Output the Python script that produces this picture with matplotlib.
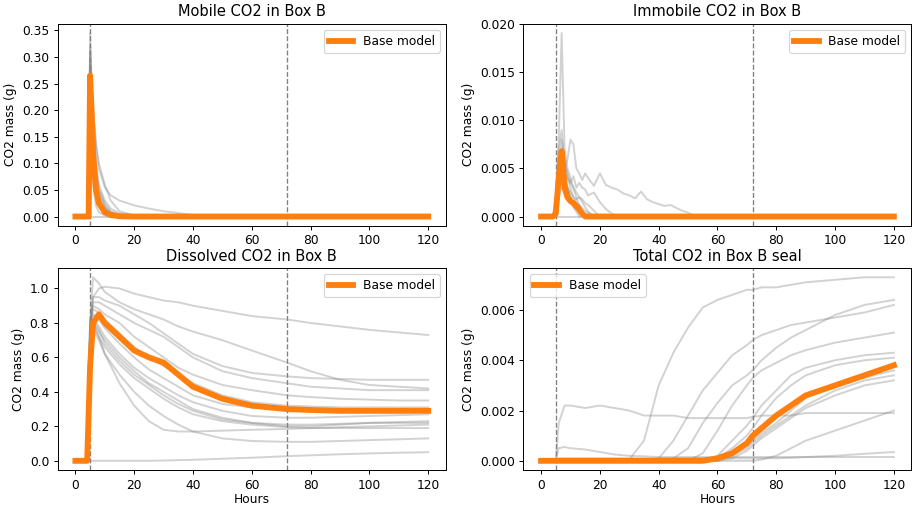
import matplotlib
matplotlib.use('Agg')
import matplotlib.pyplot as plt

# ---- Mobile CO2 in Box B ----
hours_mob = [0, 4, 4.5, 5, 5.5, 6, 7, 8, 10, 12, 15, 20, 25, 30, 40, 50, 60, 120]
base_mob = [0, 0, 0, 0.265, 0.20, 0.12, 0.05, 0.025, 0.008, 0.003, 0.0005, 0, 0, 0, 0, 0, 0, 0]
ens_mob = [
    [0, 0, 0.02, 0.30, 0.26, 0.20, 0.13, 0.09, 0.055, 0.04, 0.03, 0.021, 0.015, 0.01, 0.003, 0.0005, 0, 0],
    [0, 0, 0.03, 0.345, 0.25, 0.18, 0.10, 0.06, 0.03, 0.015, 0.006, 0.002, 0, 0, 0, 0, 0, 0],
    [0, 0, 0.01, 0.28, 0.20, 0.15, 0.08, 0.05, 0.025, 0.01, 0.003, 0, 0, 0, 0, 0, 0, 0],
    [0, 0, 0.02, 0.25, 0.17, 0.12, 0.06, 0.03, 0.012, 0.004, 0.001, 0, 0, 0, 0, 0, 0, 0],
    [0, 0, 0, 0.22, 0.15, 0.10, 0.05, 0.025, 0.008, 0.002, 0, 0, 0, 0, 0, 0, 0, 0],
    [0, 0, 0.04, 0.32, 0.22, 0.16, 0.09, 0.05, 0.02, 0.006, 0.001, 0, 0, 0, 0, 0, 0, 0],
    [0, 0, 0, 0.20, 0.12, 0.08, 0.04, 0.02, 0.006, 0.001, 0, 0, 0, 0, 0, 0, 0, 0],
    [0, 0, 0.01, 0.27, 0.24, 0.20, 0.14, 0.10, 0.06, 0.03, 0.01, 0.002, 0, 0, 0, 0, 0, 0],
    [0, 0, 0, 0.18, 0.10, 0.06, 0.02, 0.008, 0.002, 0, 0, 0, 0, 0, 0, 0, 0, 0],
    [0, 0, 0, 0, 0, 0, 0, 0, 0, 0, 0, 0, 0, 0, 0, 0, 0, 0],
    [0, 0, 0.02, 0.31, 0.20, 0.13, 0.07, 0.04, 0.018, 0.008, 0.002, 0, 0, 0, 0, 0, 0, 0],
]

# ---- Immobile CO2 in Box B ----
hours_imm = [0, 4, 5, 6, 7, 8, 9, 10, 11, 12, 13, 14, 15, 16, 18,
             20, 22, 24, 26, 28, 30, 32, 34, 36, 38, 40, 42, 44, 46, 48,
             50, 52, 54, 60, 120]
base_imm = [0, 0, 0.0003, 0.004, 0.0068, 0.003, 0.002, 0.0016, 0.0014, 0.0011,
            0.0007, 0.0003, 0, 0, 0, 0, 0, 0, 0, 0, 0, 0, 0, 0, 0,
            0, 0, 0, 0, 0, 0, 0, 0, 0, 0]
ens_imm = [
    [0, 0, 0.001, 0.008, 0.0191, 0.007, 0.005, 0.004, 0.003, 0.002,
     0.0012, 0.0006, 0.0002, 0, 0, 0, 0, 0, 0, 0, 0, 0, 0, 0, 0,
     0, 0, 0, 0, 0, 0, 0, 0, 0, 0],
    [0, 0, 0.0005, 0.004, 0.006, 0.005, 0.006, 0.008, 0.0075, 0.005,
     0.0045, 0.0038, 0.0045, 0.004, 0.0032, 0.0045, 0.0033, 0.003, 0.0028, 0.0024,
     0.0022, 0.0019, 0.0026, 0.0018, 0.0015, 0.0013, 0.0011, 0.0012, 0.0009, 0.0006,
     0.0004, 0.0001, 0, 0, 0],
    [0, 0, 0.0005, 0.003, 0.005, 0.0045, 0.004, 0.0035, 0.0042, 0.003,
     0.0035, 0.003, 0.0028, 0.0022, 0.0025, 0.0015, 0.0008, 0.0003, 0, 0,
     0, 0, 0, 0, 0, 0, 0, 0, 0, 0, 0, 0, 0, 0, 0],
    [0, 0, 0.001, 0.005, 0.008, 0.006, 0.004, 0.003, 0.002, 0.0015,
     0.001, 0.0005, 0.0002, 0, 0, 0, 0, 0, 0, 0, 0, 0, 0, 0, 0,
     0, 0, 0, 0, 0, 0, 0, 0, 0, 0],
    [0, 0, 0.0005, 0.003, 0.005, 0.004, 0.003, 0.0025, 0.002, 0.0018,
     0.002, 0.0015, 0.001, 0.0005, 0, 0, 0, 0, 0, 0, 0, 0, 0, 0, 0,
     0, 0, 0, 0, 0, 0, 0, 0, 0, 0],
    [0, 0, 0.002, 0.007, 0.009, 0.005, 0.003, 0.002, 0.001, 0.0005,
     0, 0, 0, 0, 0, 0, 0, 0, 0, 0, 0, 0, 0, 0, 0,
     0, 0, 0, 0, 0, 0, 0, 0, 0, 0],
    [0, 0, 0.0003, 0.002, 0.003, 0.0025, 0.002, 0.0015, 0.001, 0.0008,
     0.0005, 0.0003, 0, 0, 0, 0, 0, 0, 0, 0, 0, 0, 0, 0, 0,
     0, 0, 0, 0, 0, 0, 0, 0, 0, 0],
    [0, 0, 0.001, 0.004, 0.0045, 0.0035, 0.003, 0.002, 0.0015, 0.001,
     0.0012, 0.0009, 0.0006, 0.0004, 0.0001, 0, 0, 0, 0, 0, 0, 0, 0, 0, 0,
     0, 0, 0, 0, 0, 0, 0, 0, 0, 0],
    [0, 0, 0, 0, 0, 0, 0, 0, 0, 0, 0, 0, 0, 0, 0, 0, 0, 0, 0, 0, 0, 0, 0, 0, 0,
     0, 0, 0, 0, 0, 0, 0, 0, 0, 0],
    [0, 0, 0.0008, 0.0055, 0.007, 0.0055, 0.0045, 0.0035, 0.003, 0.0025,
     0.002, 0.0018, 0.0014, 0.0012, 0.0006, 0, 0, 0, 0, 0, 0, 0, 0, 0, 0,
     0, 0, 0, 0, 0, 0, 0, 0, 0, 0],
]

# ---- Dissolved CO2 in Box B ----
hours_dis = [0, 4, 5, 6, 8, 10, 15, 20, 25, 30, 35, 40, 50, 60, 72, 80, 90, 100, 110, 120]
base_dis = [0, 0, 0.55, 0.8, 0.85, 0.8, 0.72, 0.64, 0.6, 0.57,
            0.5, 0.43, 0.36, 0.32, 0.30, 0.295, 0.29, 0.29, 0.29, 0.29]
ens_dis = [
    [0, 0, 0.75, 0.95, 1.0, 1.01, 1.0, 0.97, 0.95, 0.93, 0.92, 0.9, 0.87, 0.84, 0.82, 0.8, 0.78, 0.76, 0.745, 0.73],
    [0, 0, 0.8, 1.065, 1.03, 0.98, 0.92, 0.88, 0.85, 0.82, 0.78, 0.75, 0.7, 0.64, 0.57, 0.52, 0.47, 0.44, 0.43, 0.42],
    [0, 0, 0.8, 0.95, 0.95, 0.93, 0.9, 0.85, 0.8, 0.74, 0.68, 0.62, 0.55, 0.51, 0.49, 0.48, 0.475, 0.47, 0.47, 0.47],
    [0, 0, 0.8, 0.92, 0.92, 0.9, 0.85, 0.8, 0.76, 0.72, 0.66, 0.6, 0.52, 0.48, 0.45, 0.43, 0.42, 0.41, 0.41, 0.41],
    [0, 0, 0.8, 0.9, 0.88, 0.85, 0.8, 0.72, 0.66, 0.6, 0.54, 0.5, 0.44, 0.41, 0.38, 0.37, 0.36, 0.355, 0.35, 0.35],
    [0, 0, 0.75, 0.88, 0.86, 0.82, 0.74, 0.66, 0.6, 0.55, 0.5, 0.45, 0.38, 0.34, 0.32, 0.315, 0.31, 0.31, 0.31, 0.31],
    [0, 0, 0.75, 0.85, 0.82, 0.77, 0.68, 0.6, 0.53, 0.48, 0.43, 0.38, 0.33, 0.31, 0.3, 0.3, 0.3, 0.3, 0.3, 0.3],
    [0, 0, 0.7, 0.82, 0.78, 0.72, 0.62, 0.54, 0.48, 0.43, 0.38, 0.34, 0.29, 0.26, 0.25, 0.25, 0.255, 0.26, 0.265, 0.27],
    [0, 0, 0.7, 0.8, 0.75, 0.7, 0.6, 0.52, 0.45, 0.4, 0.35, 0.3, 0.25, 0.22, 0.2, 0.2, 0.21, 0.22, 0.225, 0.23],
    [0, 0, 0.7, 0.82, 0.76, 0.68, 0.58, 0.5, 0.44, 0.38, 0.33, 0.29, 0.24, 0.22, 0.21, 0.21, 0.215, 0.22, 0.22, 0.22],
    [0, 0, 0.65, 0.78, 0.72, 0.66, 0.56, 0.48, 0.42, 0.36, 0.31, 0.27, 0.23, 0.21, 0.195, 0.19, 0.19, 0.19, 0.19, 0.19],
    [0, 0, 0.65, 0.8, 0.72, 0.62, 0.45, 0.32, 0.23, 0.18, 0.17, 0.17, 0.175, 0.18, 0.185, 0.19, 0.195, 0.2, 0.205, 0.21],
    [0, 0, 0.6, 0.76, 0.7, 0.62, 0.5, 0.4, 0.32, 0.26, 0.21, 0.17, 0.13, 0.115, 0.11, 0.11, 0.115, 0.12, 0.125, 0.13],
    [0, 0, 0, 0, 0, 0, 0, 0, 0, 0.002, 0.004, 0.006, 0.012, 0.018, 0.027, 0.032, 0.038, 0.043, 0.047, 0.05],
]

# ---- Total CO2 in Box B seal ----
hours_seal = [0, 4, 5, 6, 8, 10, 15, 20, 25, 30, 35, 40, 45, 50, 55,
              60, 65, 70, 72, 75, 80, 85, 90, 100, 110, 120]
base_seal = [0, 0, 0, 0, 0, 0, 0, 0, 0, 0, 0, 0, 0, 0, 0,
             0.0001, 0.0003, 0.0007, 0.001, 0.0013, 0.0018, 0.0022, 0.0026, 0.003, 0.0034, 0.0038]
ens_seal = [
    [0, 0, 0, 0, 0, 0, 0, 0, 0, 0.00005, 0.0008, 0.003, 0.0043, 0.0053, 0.0061,
     0.0064, 0.0066, 0.0068, 0.0068, 0.0069, 0.0069, 0.007, 0.0071, 0.0072, 0.0073, 0.0073],
    [0, 0, 0, 0.0015, 0.0022, 0.0022, 0.0021, 0.0022, 0.0021, 0.002, 0.0018, 0.0018, 0.0018, 0.0017, 0.0017,
     0.0017, 0.0017, 0.0017, 0.00175, 0.0018, 0.0018, 0.0018, 0.0019, 0.0019, 0.0019, 0.0019],
    [0, 0, 0, 0.0005, 0.00055, 0.0005, 0.00045, 0.00035, 0.00025, 0.0002, 0.00018, 0.00015, 0.00015, 0.00015, 0.00015,
     0.00015, 0.00015, 0.00015, 0.00015, 0.00015, 0.00015, 0.00015, 0.00015, 0.00015, 0.00015, 0.00015],
    [0, 0, 0, 0, 0, 0, 0, 0, 0, 0, 0, 0.0001, 0.0008, 0.0018, 0.0028,
     0.0035, 0.0042, 0.0046, 0.0048, 0.005, 0.0052, 0.0054, 0.0055, 0.0057, 0.0059, 0.0062],
    [0, 0, 0, 0, 0, 0, 0, 0, 0, 0, 0, 0, 0.0001, 0.0005, 0.0015,
     0.0023, 0.003, 0.0034, 0.0036, 0.004, 0.0045, 0.0049, 0.0052, 0.0058, 0.0062, 0.0064],
    [0, 0, 0, 0, 0, 0, 0, 0, 0, 0, 0, 0, 0, 0, 0.0003,
     0.0012, 0.0022, 0.003, 0.0033, 0.0036, 0.0039, 0.0042, 0.0044, 0.0047, 0.0049, 0.0051],
    [0, 0, 0, 0, 0, 0, 0, 0, 0, 0, 0, 0, 0, 0, 0,
     0.0002, 0.0008, 0.0014, 0.0017, 0.0022, 0.0028, 0.0034, 0.0037, 0.004, 0.0042, 0.0043],
    [0, 0, 0, 0, 0, 0, 0, 0, 0, 0, 0, 0, 0, 0, 0,
     0.0001, 0.0005, 0.001, 0.0013, 0.0018, 0.0025, 0.003, 0.0034, 0.0038, 0.004, 0.0041],
    [0, 0, 0, 0, 0, 0, 0, 0, 0, 0, 0, 0, 0, 0, 0,
     0.0001, 0.0003, 0.0006, 0.0008, 0.0011, 0.0015, 0.002, 0.0025, 0.003, 0.0033, 0.0036],
    [0, 0, 0, 0, 0, 0, 0, 0, 0, 0, 0, 0, 0, 0, 0,
     0, 0.0002, 0.0005, 0.0007, 0.001, 0.0014, 0.0018, 0.0022, 0.0028, 0.0032, 0.0034],
    [0, 0, 0, 0, 0, 0, 0, 0, 0, 0, 0, 0, 0, 0, 0,
     0, 0.0001, 0.0004, 0.0006, 0.0009, 0.0013, 0.0017, 0.0021, 0.0026, 0.003, 0.0032],
    [0, 0, 0, 0, 0, 0, 0, 0, 0, 0, 0, 0, 0, 0, 0,
     0, 0, 0, 0, 0.00005, 0.0002, 0.0005, 0.0008, 0.0012, 0.0016, 0.002],
    [0, 0, 0, 0.0001, 0.0001, 0.0001, 0.0001, 0.0001, 0.0001, 0.0001, 0.0001, 0.0001, 0.0001, 0.0001, 0.0001,
     0.0001, 0.0001, 0.0001, 0.0001, 0.0001, 0.0001, 0.00012, 0.00015, 0.0002, 0.00028, 0.00035],
]

titles = ['Mobile CO2 in Box B', 'Immobile CO2 in Box B',
          'Dissolved CO2 in Box B', 'Total CO2 in Box B seal']
marker_hours = [5, 72]

panels = [
    (hours_mob, ens_mob, base_mob, 'upper right'),
    (hours_imm, ens_imm, base_imm, 'upper right'),
    (hours_dis, ens_dis, base_dis, 'upper right'),
    (hours_seal, ens_seal, base_seal, 'upper left'),
]

# drawn at 88 dpi so the text sits at the reference's size
fig, axes = plt.subplots(2, 2, figsize=(917 / 88, 507 / 88), dpi=88)
fig.subplots_adjust(left=0.063, right=0.994, top=0.953, bottom=0.073,
                    wspace=0.20, hspace=0.21)

for i, (ax, (t, ens, base, loc)) in enumerate(zip(axes.flat, panels)):
    for run in ens:
        ax.plot(t, run, color='grey', alpha=0.35, lw=1.6)
    for h in marker_hours:
        ax.axvline(h, color='grey', ls='--', lw=1.1)
    ax.plot(t, base, color='#ff7f0e', lw=4.8, label='Base model')
    ax.set_title(titles[i])
    ax.set_ylabel('CO2 mass (g)')
    ax.set_xticks([0, 20, 40, 60, 80, 100, 120])
    ax.legend(loc=loc)
    if i >= 2:
        ax.set_xlabel('Hours', labelpad=1)

fig.savefig('out.png', dpi=88)
